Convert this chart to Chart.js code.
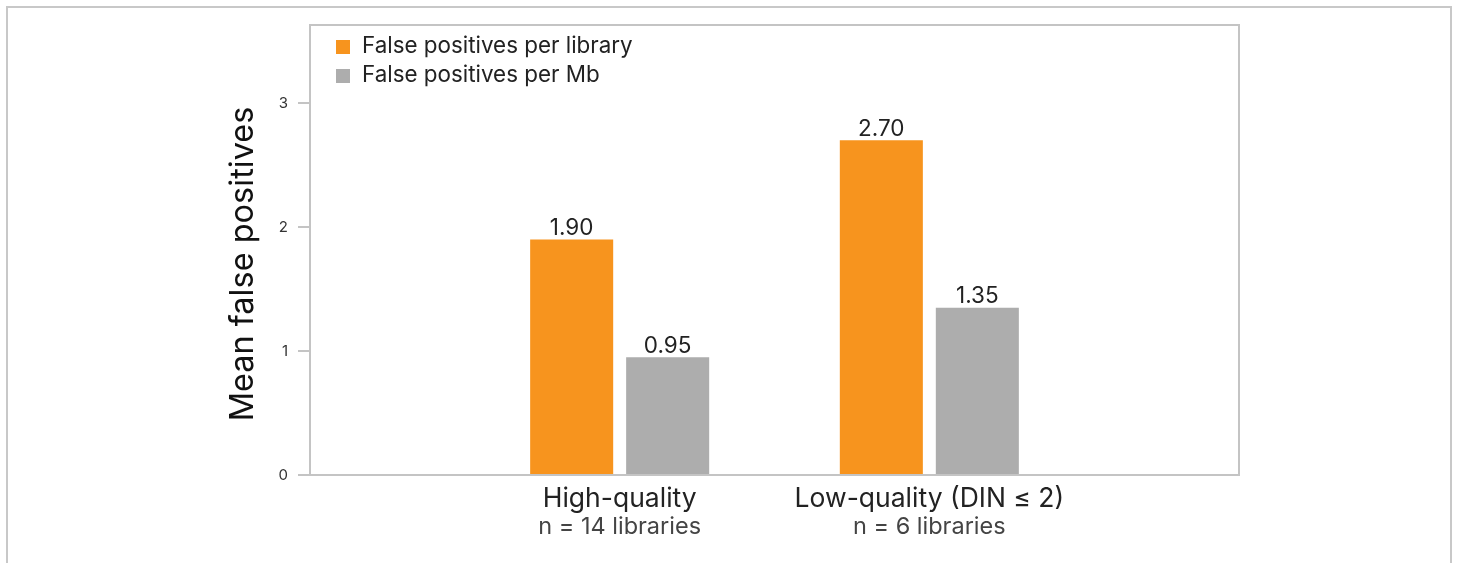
<!DOCTYPE html>
<html>
<head>
<meta charset="utf-8">
<title>Mean false positives</title>
<script src="https://cdn.jsdelivr.net/npm/chart.js@4"></script>
<style>
  html, body { margin: 0; padding: 0; background: #fff; }
  #frame {
    position: absolute; left: 6px; top: 6px; width: 1446px; height: 620px;
    border: 2px solid #c8c8c8; border-bottom: none; box-sizing: border-box;
  }
  #wrap { position: absolute; left: 0; top: 0; width: 1457px; height: 563px; }
</style>
</head>
<body>
<div id="frame"></div>
<div id="wrap"><canvas id="chart" width="1457" height="563"></canvas></div>
<script>
// Library groups and their sample sizes
const categories = ['High-quality', 'Low-quality (DIN \u2264 2)'];
const subLabels = ['n = 14 libraries', 'n = 6 libraries'];

// Mean false positives per group
const perLibrary = [1.90, 2.70];
const perMb = [0.95, 1.35];

const seriesNames = ['False positives per library', 'False positives per Mb'];
const yTicks = [0, 1, 2, 3];

const FONT = 'Inter, "Noto Sans", sans-serif';
const ORANGE = '#F7941E';
const GREY = '#ADADAD';
const LINE = '#c4c4c4';

// Empty slots on both ends keep the two groups at one third and two thirds of the width
const pad = arr => [null, ...arr, null];
const labels = ['', ...categories, ''];

const frameBox = {
  id: 'frameBox',
  afterDraw(chart) {
    const { ctx, chartArea: a } = chart;
    ctx.save();
    ctx.strokeStyle = LINE;
    ctx.lineWidth = 2;
    ctx.strokeRect(a.left, a.top, a.right - a.left, a.bottom - a.top);
    ctx.restore();
  }
};

const valueLabels = {
  id: 'valueLabels',
  afterDatasetsDraw(chart) {
    const { ctx } = chart;
    ctx.save();
    ctx.font = '22.5px ' + FONT;
    ctx.fillStyle = '#222';
    ctx.textAlign = 'center';
    ctx.textBaseline = 'alphabetic';
    chart.data.datasets.forEach((ds, di) => {
      chart.getDatasetMeta(di).data.forEach((el, i) => {
        const v = ds.data[i];
        if (v === null || v === undefined) return;
        ctx.fillText(v.toFixed(2), el.x, el.y - 4.5);
      });
    });
    ctx.restore();
  }
};

const innerLegend = {
  id: 'innerLegend',
  afterDraw(chart) {
    const { ctx, chartArea: a } = chart;
    ctx.save();
    ctx.font = '22.4px ' + FONT;
    ctx.textAlign = 'left';
    ctx.textBaseline = 'alphabetic';
    chart.data.datasets.forEach((ds, i) => {
      const base = a.top + 28 + i * 29;
      ctx.fillStyle = ds.backgroundColor;
      ctx.fillRect(a.left + 26, base - 13, 14, 14);
      ctx.fillStyle = '#222';
      ctx.fillText(ds.label, a.left + 52, base);
    });
    ctx.restore();
  }
};

const groupLabels = {
  id: 'groupLabels',
  afterDraw(chart) {
    const { ctx, chartArea: a } = chart;
    const x = chart.scales.x;
    ctx.save();
    ctx.textAlign = 'center';
    ctx.textBaseline = 'alphabetic';
    categories.forEach((c, i) => {
      const px = x.getPixelForValue(i + 1);
      ctx.font = '26.5px ' + FONT;
      ctx.fillStyle = '#222';
      ctx.fillText(c, px, a.bottom + 32);
      ctx.font = '23.5px ' + FONT;
      ctx.fillStyle = '#444';
      ctx.fillText(subLabels[i], px, a.bottom + 59);
    });
    ctx.restore();
  }
};

const yTitle = {
  id: 'yTitle',
  afterDraw(chart) {
    const { ctx } = chart;
    ctx.save();
    ctx.translate(243.5, 264);
    ctx.rotate(-Math.PI / 2);
    ctx.font = '32.5px ' + FONT;
    ctx.fillStyle = '#111';
    ctx.textAlign = 'center';
    ctx.textBaseline = 'middle';
    ctx.fillText('Mean false positives', 0, 0);
    ctx.restore();
  }
};

new Chart(document.getElementById('chart'), {
  type: 'bar',
  data: {
    labels,
    datasets: [
      { label: seriesNames[0], data: pad(perLibrary), backgroundColor: ORANGE },
      { label: seriesNames[1], data: pad(perMb), backgroundColor: GREY }
    ]
  },
  options: {
    responsive: false,
    animation: false,
    categoryPercentage: 0.62,
    barPercentage: 0.865,
    layout: { padding: { left: 200, top: 25, right: 218, bottom: 88 } },
    plugins: { legend: { display: false }, tooltip: { enabled: false } },
    scales: {
      x: {
        offset: false,
        grid: { display: false },
        border: { display: false },
        ticks: { display: false },
        afterFit(s) { s.height = 0; }
      },
      y: {
        min: 0,
        max: 3.63,
        afterFit(s) { s.width = 110; },
        afterBuildTicks(s) { s.ticks = yTicks.map(v => ({ value: v })); },
        grid: { drawOnChartArea: false, drawTicks: true, tickLength: 12, color: LINE, lineWidth: 2 },
        border: { display: false },
        ticks: { padding: 10, color: '#333', font: { family: FONT, size: 15 } }
      }
    }
  },
  plugins: [frameBox, valueLabels, innerLegend, groupLabels, yTitle]
});
</script>
</body>
</html>
